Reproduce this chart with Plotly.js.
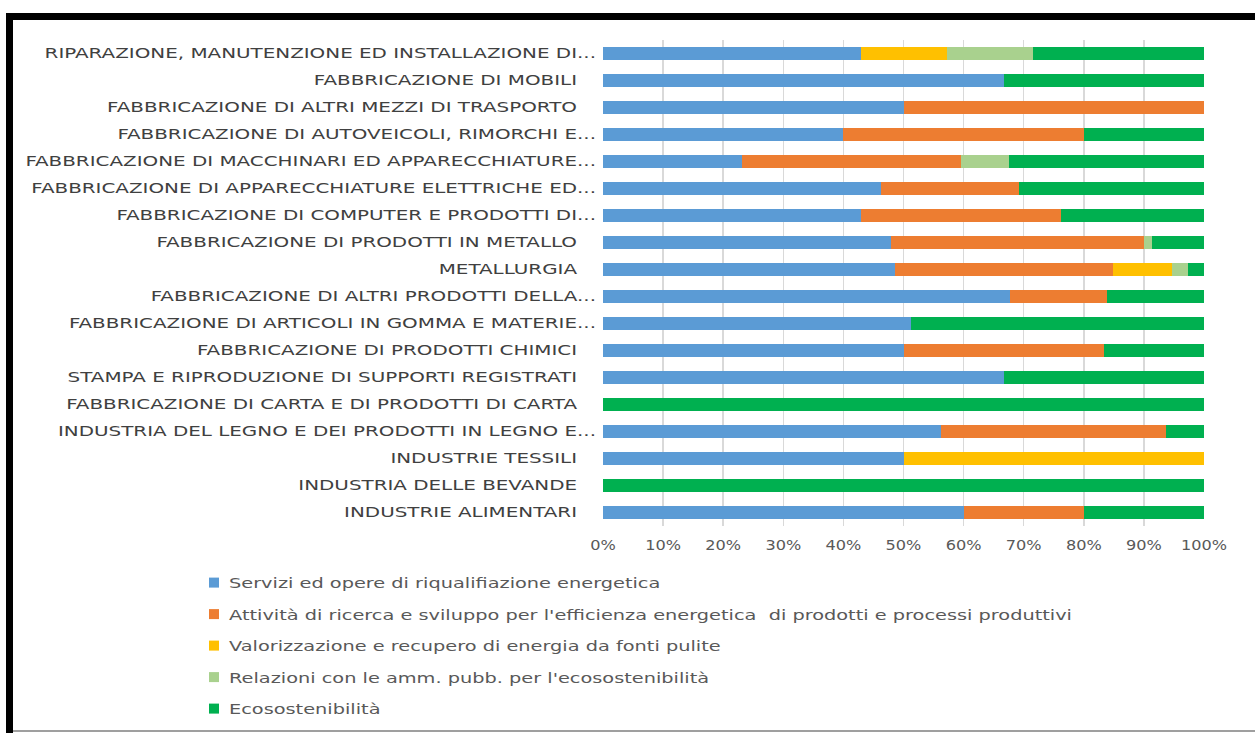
<!DOCTYPE html>
<html>
<head>
<meta charset="utf-8">
<script src="https://cdn.plot.ly/plotly-3.0.1.min.js"></script>
<style>
html,body{margin:0;padding:0;background:#fff;overflow:hidden;}
#chart{width:1255px;height:733px;}
</style>
</head>
<body>
<div id="chart"></div>
<script>
const categories = [
  "RIPARAZIONE, MANUTENZIONE ED INSTALLAZIONE DI...",
  "FABBRICAZIONE DI MOBILI",
  "FABBRICAZIONE DI ALTRI MEZZI DI TRASPORTO",
  "FABBRICAZIONE DI AUTOVEICOLI, RIMORCHI E...",
  "FABBRICAZIONE DI MACCHINARI ED APPARECCHIATURE...",
  "FABBRICAZIONE DI APPARECCHIATURE ELETTRICHE ED...",
  "FABBRICAZIONE DI COMPUTER E PRODOTTI DI...",
  "FABBRICAZIONE DI PRODOTTI IN METALLO",
  "METALLURGIA",
  "FABBRICAZIONE DI ALTRI PRODOTTI DELLA...",
  "FABBRICAZIONE DI ARTICOLI IN GOMMA E MATERIE...",
  "FABBRICAZIONE DI PRODOTTI CHIMICI",
  "STAMPA E RIPRODUZIONE DI SUPPORTI REGISTRATI",
  "FABBRICAZIONE DI CARTA E DI PRODOTTI DI CARTA",
  "INDUSTRIA DEL LEGNO E DEI PRODOTTI IN LEGNO E...",
  "INDUSTRIE TESSILI",
  "INDUSTRIA DELLE BEVANDE",
  "INDUSTRIE ALIMENTARI"
];

const seriesNames = [
  "Servizi ed opere di riqualifiazione energetica",
  "Attività di ricerca e sviluppo per l'efficienza energetica  di prodotti e processi produttivi",
  "Valorizzazione e recupero di energia da fonti pulite",
  "Relazioni con le amm. pubb. per l'ecosostenibilità",
  "Ecosostenibilità"
];

const serviziValues     = [42.9, 66.7, 50, 40, 23.1, 46.2, 42.9, 47.9, 48.6, 67.8, 51.3, 50, 66.7, 0, 56.25, 50, 0, 60];
const ricercaValues     = [0, 0, 50, 40, 36.4, 23.0, 33.3, 42.1, 36.2, 16.0, 0, 33.4, 0, 0, 37.5, 0, 0, 20];
const valorizzValues    = [14.3, 0, 0, 0, 0, 0, 0, 0, 9.9, 0, 0, 0, 0, 0, 0, 50, 0, 0];
const relazioniValues   = [14.3, 0, 0, 0, 8.0, 0, 0, 1.4, 2.7, 0, 0, 0, 0, 0, 0, 0, 0, 0];
const ecoValues         = [28.5, 33.3, 0, 20, 32.5, 30.8, 23.8, 8.6, 2.6, 16.2, 48.7, 16.6, 33.3, 100, 6.25, 0, 100, 20];

const xTickVals = [0, 10, 20, 30, 40, 50, 60, 70, 80, 90, 100];
const xTickText = ["0%", "10%", "20%", "30%", "40%", "50%", "60%", "70%", "80%", "90%", "100%"];

const colors = ["#5B9BD5", "#ED7D31", "#FFC000", "#A9D18E", "#00B050"];
const allValues = [serviziValues, ricercaValues, valorizzValues, relazioniValues, ecoValues];

const W = 1255, H = 733;
const PL = 603, PR = 1204, PT = 40, PB = 526;
const px2x = p => (p - PL) / (PR - PL);
const px2y = p => (PB - p) / (PB - PT);

// non-truncated labels sit a little further left in the original
const catLabels = categories.map(c => c.endsWith("...") ? c : c + "\u00a0\u00a0\u00a0");

const traces = allValues.map((vals, i) => ({
  type: "bar",
  orientation: "h",
  name: seriesNames[i],
  y: categories,
  x: vals,
  marker: {color: colors[i], line: {width: 0}},
  legendgroup: "g" + i,
  hoverinfo: "x+y+name"
}));

const layout = {
  width: W, height: H,
  margin: {l: PL, r: W - PR, t: PT, b: H - PB, pad: 0, autoexpand: false},
  paper_bgcolor: "#ffffff",
  plot_bgcolor: "#ffffff",
  barmode: "stack",
  barnorm: "percent",
  bargap: 0.54,
  font: {family: "DejaVu Sans, sans-serif", size: 14, color: "#595959"},
  xaxis: {
    range: [0, 100],
    tickvals: xTickVals,
    ticktext: xTickText,
    showgrid: true,
    gridcolor: "#d9d9d9",
    gridwidth: 1.5,
    zeroline: false,
    showline: false,
    ticks: "",
    ticklabelstandoff: 9,
    tickfont: {family: "DejaVu Sans, sans-serif", size: 14, color: "#595959"},
    fixedrange: true
  },
  yaxis: {
    type: "category",
    categoryorder: "array",
    categoryarray: categories,
    tickvals: categories,
    ticktext: catLabels,
    range: [categories.length - 0.5, -0.5],
    showgrid: false,
    zeroline: false,
    showline: false,
    ticks: "",
    ticklabelstandoff: 6,
    tickfont: {family: "DejaVu Sans, sans-serif", size: 14, color: "#404040"},
    fixedrange: true
  },
  showlegend: true,
  legend: {
    orientation: "v",
    x: px2x(189), xanchor: "left",
    y: px2y(567), yanchor: "top",
    traceorder: "grouped",
    tracegroupgap: 10.3,
    font: {family: "DejaVu Sans, sans-serif", size: 14, color: "#595959"},
    bgcolor: "rgba(0,0,0,0)"
  },
  shapes: [
    {type: "rect", xref: "paper", yref: "paper", x0: px2x(7), x1: px2x(1256), y0: px2y(20), y1: px2y(13), fillcolor: "#000", line: {width: 0}, layer: "above"},
    {type: "rect", xref: "paper", yref: "paper", x0: px2x(6), x1: px2x(13), y0: px2y(734), y1: px2y(13), fillcolor: "#000", line: {width: 0}, layer: "above"},
    {type: "line", xref: "paper", yref: "paper", x0: px2x(13), x1: px2x(1256), y0: px2y(731), y1: px2y(731), line: {color: "#7f7f7f", width: 1.5}, layer: "above"}
  ]
};

// the original's text is drawn horizontally stretched; widen glyphs to match
function stretchText(selector, factor) {
  document.querySelectorAll(selector).forEach(t => {
    const len = t.getComputedTextLength();
    if (len > 0) {
      t.setAttribute("lengthAdjust", "spacingAndGlyphs");
      t.setAttribute("textLength", (len * factor).toFixed(1));
    }
  });
}

Plotly.newPlot("chart", traces, layout, {displayModeBar: false, staticPlot: true}).then(() => {
  stretchText("#chart .ytick text", 1.42);
  stretchText("#chart .legendtext", 1.38);
  stretchText("#chart .xtick text", 1.15);
  document.querySelectorAll("#chart .legend .scrollbox, #chart .legend").forEach(g => g.removeAttribute("clip-path"));
  // smaller legend keys, closer to the text, as in the original
  document.querySelectorAll("#chart .legend .legendpoints path").forEach(p => {
    p.setAttribute("d", "M5,5H-5V-5H5Z");
    p.setAttribute("transform", "translate(25,0)");
  });
});
</script>
</body>
</html>
